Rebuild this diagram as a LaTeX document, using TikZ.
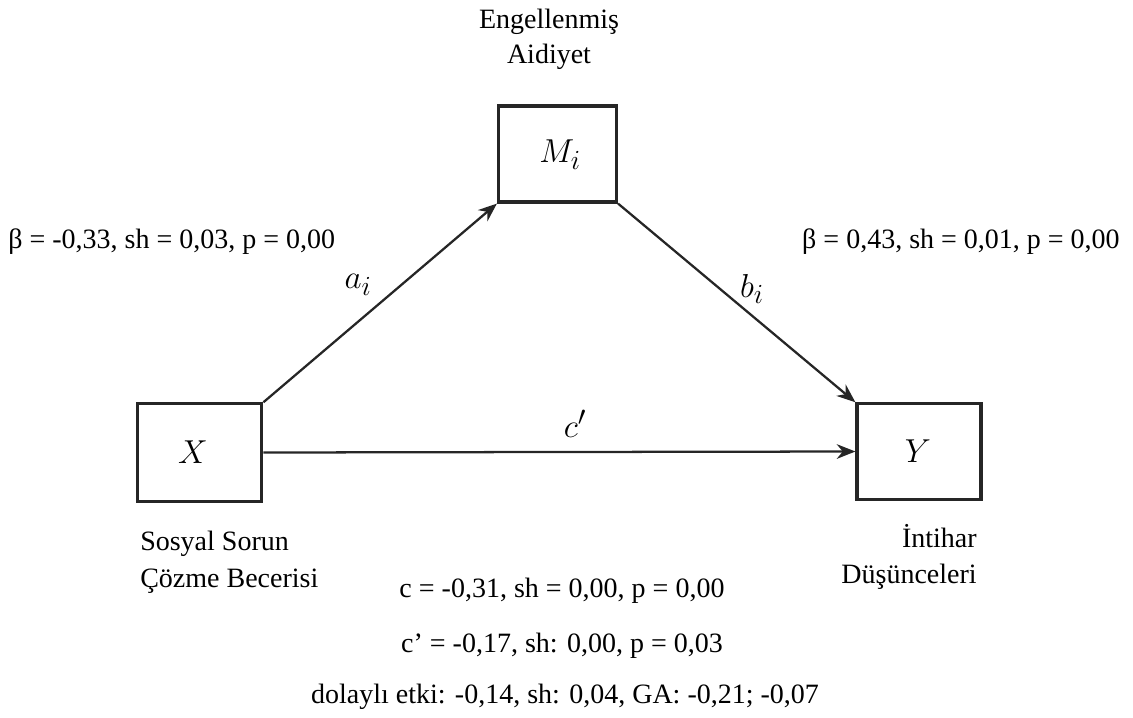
\documentclass[tikz,border=0pt]{standalone}
\usepackage{fontspec}
\setmainfont{Liberation Serif}
\usetikzlibrary{arrows.meta}
\begin{document}
\begin{tikzpicture}[x=0.75pt,y=-0.75pt,
  box/.style={draw=black!85, line width=2.4pt, inner sep=0pt},
  arr/.style={-{Stealth[length=14pt,width=11pt]}, line width=1.7pt, draw=black!85},
  lbl/.style={font=\fontsize{21}{25}\selectfont, inner sep=0pt},
  var/.style={font=\fontsize{28}{32}\selectfont, inner sep=0pt}]
\useasboundingbox (0,0) rectangle (1133,718);
\node[box, minimum width=88.5pt, minimum height=72pt] (M) at (557.5,154) {};
\node[box, minimum width=93.5pt, minimum height=73pt] (X) at (199.5,452.5) {};
\node[box, minimum width=93pt, minimum height=71.5pt] (Y) at (919,451.5) {};
\node[var] (Mlab) at (560,155) {$M_i$};
\node[var] (Xlab) at (193,452) {$X$};
\node[var] (Ylab) at (918,451) {$Y$};
\draw[arr] (X.north east) -- (M.south west);
\draw[arr] (M.south east) -- (Y.north west);
\draw[arr] (X.east) -- (Y.west);
\node[var] (alab) at (358,285) {$a_i$};
\node[var] (blab) at (752,289) {$b_i$};
\node[var] (clab) at (575,424) {$c'$};
\node[lbl, anchor=base] (eng) at (549,28) {Engellenmiş};
\node[lbl, anchor=base] (aid) at (549,63) {Aidiyet};
\node[lbl, anchor=base west] (betaA) at (8,248) {β = -0,33, sh = 0,03, p = 0,00};
\node[lbl, anchor=base east] (betaB) at (1120,248) {β = 0,43, sh = 0,01, p = 0,00};
\node[lbl, anchor=base west] (xl1) at (140,550) {Sosyal Sorun};
\node[lbl, anchor=base west] (xl2) at (140,587) {Çözme Becerisi};
\node[lbl, anchor=base east] (yl1) at (977,547) {İntihar};
\node[lbl, anchor=base east] (yl2) at (977,583) {Düşünceleri};
\node[lbl, anchor=base] (s1) at (562,597) {c = -0,31, sh = 0,00, p = 0,00};
\node[lbl, anchor=base] (s2) at (562,652) {c’ = -0,17, sh: 0,00, p = 0,03};
\node[lbl, anchor=base] (s3) at (565,703) {dolaylı etki: -0,14, sh: 0,04, GA: -0,21; -0,07};
\end{tikzpicture}
\end{document}
